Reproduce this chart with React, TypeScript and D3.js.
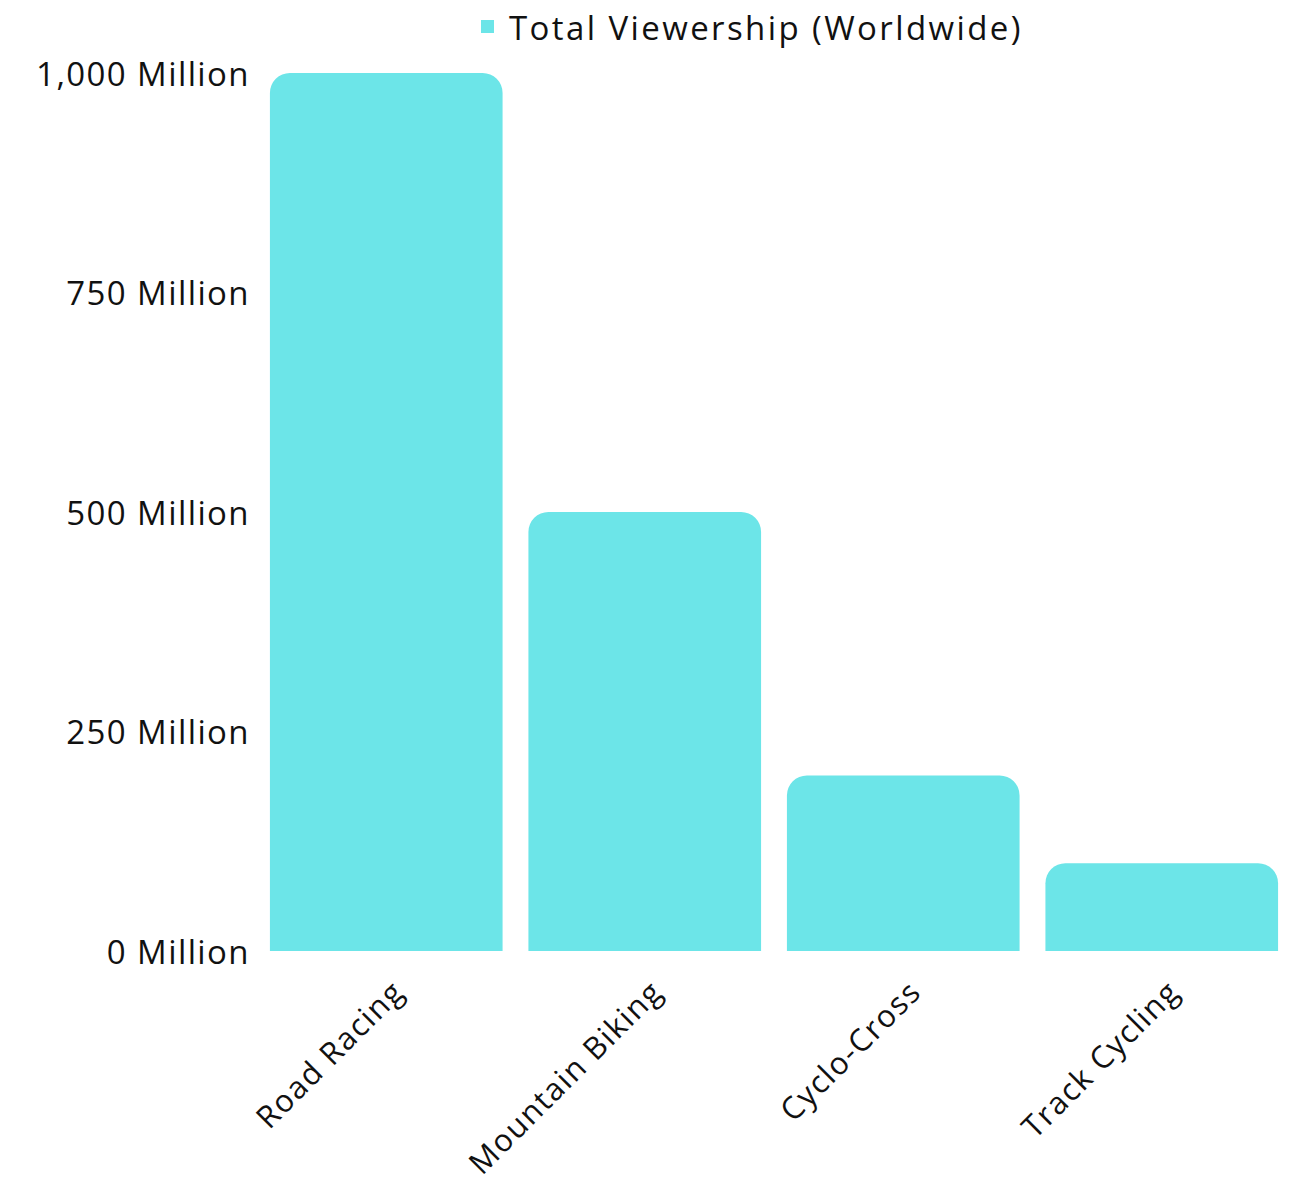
import React from "react";
import * as d3 from "d3";

const categories = ["Road Racing", "Mountain Biking", "Cyclo-Cross", "Track Cycling"];
const viewership = [1000, 500, 200, 100];
const yTicks = [0, 250, 500, 750, 1000];
const seriesName = "Total Viewership (Worldwide)";

const W = 1296;
const H = 1188;
const FONT = "'Open Sans', Lato, sans-serif";
const COLOR = "#6ce5e8";

function topRoundedBar(x: number, y: number, w: number, h: number, r: number) {
  const rr = Math.min(r, h, w / 2);
  const p = d3.path();
  p.moveTo(x, y + h);
  p.lineTo(x, y + rr);
  p.arcTo(x, y, x + rr, y, rr);
  p.lineTo(x + w - rr, y);
  p.arcTo(x + w, y, x + w, y + rr, rr);
  p.lineTo(x + w, y + h);
  p.closePath();
  return p.toString();
}

export default function App() {
  const x = d3.scaleBand<string>().domain(categories).range([257, 1291]).paddingInner(0.1).paddingOuter(0.05);
  const y = d3.scaleLinear().domain([0, 1000]).range([951, 73]);
  const fmt = d3.format(",");
  return (
    <svg width={W} height={H} style={{ display: "block", position: "absolute", left: 0, top: 0 }} fontFamily={FONT}>
      <rect x={0} y={0} width={W} height={H} fill="#fff" />
      {/* legend */}
      <rect x={481} y={20} width={13} height={13} fill={COLOR} />
      <text x={509} y={27} fontSize={33} letterSpacing={2.4} dominantBaseline="central" fill="#111">{seriesName}</text>
      {/* y axis labels */}
      {yTicks.map((t) => (
        <text key={t} x={250} y={y(t)} textAnchor="end" dominantBaseline="central" fontSize={33} letterSpacing={1.4} fill="#111">
          {fmt(t) + " Million"}
        </text>
      ))}
      {/* bars */}
      {categories.map((c, i) => (
        <path key={c} d={topRoundedBar(x(c)!, y(viewership[i]), x.bandwidth(), y(0) - y(viewership[i]), 20)} fill={COLOR} />
      ))}
      {/* x labels */}
      {categories.map((c) => {
        const cx = x(c)! + x.bandwidth() / 2;
        const ax = cx + 1;
        const ty = 975;
        return (
          <text key={c} x={ax} y={ty} textAnchor="end" fontSize={31} letterSpacing={1.5} fill="#111" transform={`rotate(-45 ${ax} ${ty})`} dominantBaseline="hanging">
            {c}
          </text>
        );
      })}
    </svg>
  );
}
